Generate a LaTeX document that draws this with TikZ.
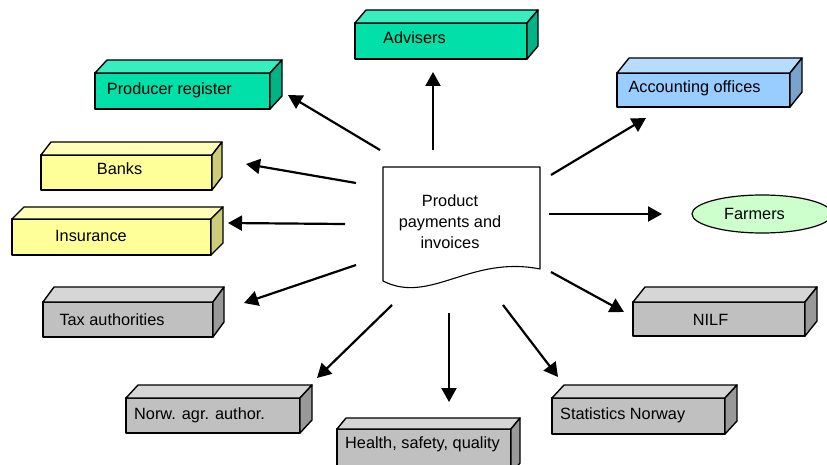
\documentclass[tikz,border=0pt]{standalone}
\usepackage{fontspec}
\setmainfont{Liberation Sans}
\usetikzlibrary{arrows.meta,shapes.geometric}
\definecolor{gfront}{HTML}{00E0A8}
\definecolor{gtop}{HTML}{38EDBE}
\definecolor{gside}{HTML}{00B386}
\definecolor{bfront}{HTML}{99CCFF}
\definecolor{btop}{HTML}{B8DCFF}
\definecolor{bside}{HTML}{7AA3CC}
\definecolor{yfront}{HTML}{FFFF99}
\definecolor{ytop}{HTML}{FFFFB8}
\definecolor{yside}{HTML}{CCCC7A}
\definecolor{kfront}{HTML}{C0C0C0}
\definecolor{ktop}{HTML}{D6D6D6}
\definecolor{kside}{HTML}{999999}
\definecolor{farm}{HTML}{CCFFCC}
\tikzset{
  face/.style={draw=black, line width=1.4pt, inner sep=0pt, outer sep=0pt, line join=round},
  edge/.style={draw=black, line width=1.4pt, line join=round},
  lbl/.style={font=\fontsize{16.3}{20}\selectfont, inner sep=0pt, anchor=base west},
  arr/.style={-{Triangle[length=14pt,width=15pt]}, line width=2.2pt},
}
% name, left, top, width, height, dx, dy, colour prefix
\newcommand\cuboid[8]{%
  \node[face, fill=#8front, minimum width=#4pt, minimum height=#5pt, anchor=north west] (#1) at (#2,#3) {};
  \draw[edge, fill=#8top] (#1.north west) -- ++(#6,-#7) -- ++(#4,0) -- (#1.north east) -- cycle;
  \draw[edge, fill=#8side] (#1.north east) -- ++(#6,-#7) -- ++(0,#5) -- (#1.south east) -- cycle;
}
\begin{document}
\begin{tikzpicture}[x=1pt,y=-1pt]
\path[use as bounding box, clip] (0,0) rectangle (827,465);
\fill[white] (0,0) rectangle (827,465);

% boxes
\cuboid{adv}{355}{23}{172}{36}{11}{13}{g}
\cuboid{prod}{95}{73}{175}{36}{12}{13}{g}
\cuboid{acc}{617}{73}{173}{34}{12}{15}{b}
\cuboid{bank}{41}{155}{171}{35}{10}{13}{y}
\cuboid{ins}{12}{219}{199}{36}{12}{12}{y}
\cuboid{tax}{43}{302}{170}{35}{11}{15}{k}
\cuboid{nilf}{633}{302}{172}{34}{12}{15}{k}
\cuboid{norw}{126}{398}{174}{35}{12}{13}{k}
\cuboid{hsq}{337}{429}{174}{45}{9}{11}{k}
\cuboid{stat}{552}{398}{173}{36}{12}{13}{k}

% labels
\node[lbl] (tadv) at (383,43.3) {Advisers};
\node[lbl] (tprod) at (106.7,94.3) {Producer register};
\node[lbl] (tacc) at (628.3,92.7) {Accounting offices};
\node[lbl] (tbank) at (96.7,175) {Banks};
\node[lbl] (tins) at (55,241) {Insurance};
\node[lbl] (ttax) at (59.3,325) {Tax authorities};
\node[lbl] (tnilf) at (692.7,325) {NILF};
\node[lbl] (tnorw) at (134,419.3) {Norw. agr. author.};
\node[lbl] (thsq) at (345,448) {Health, safety, quality};
\node[lbl] (tstat) at (560,419.3) {Statistics Norway};

% farmers
\node[ellipse, draw=black, line width=1.2pt, fill=farm, minimum width=140pt, minimum height=38pt, inner sep=0pt] (farm) at (762,214) {};
\node[lbl] (tfarm) at (724,219.5) {Farmers};

% document
\draw[line width=1.1pt, fill=white, line join=round] (383,167) -- (540,167) -- (540,269)
  .. controls (470,255) and (430,305) .. (383,281) -- cycle;
\node[font=\fontsize{16.3}{21}\selectfont, align=center, inner sep=0pt] (doc) at (450,222) {Product\\payments and\\invoices};

% arrow end points
\coordinate (s1) at (433,150); \coordinate (e1) at (433,72);
\coordinate (s2) at (380,150); \coordinate (e2) at (288,95);
\coordinate (s3) at (551,175); \coordinate (e3) at (646,118);
\coordinate (s4) at (356,183); \coordinate (e4) at (246,164);
\coordinate (s5) at (345,224); \coordinate (e5) at (228,223);
\coordinate (s6) at (549,214); \coordinate (e6) at (662,214);
\coordinate (s7) at (356,265); \coordinate (e7) at (244,303);
\coordinate (s8) at (551,272); \coordinate (e8) at (624,312);
\coordinate (s9) at (392,305); \coordinate (e9) at (317,378);
\coordinate (s10) at (449,313); \coordinate (e10) at (449,402);
\coordinate (s11) at (503,305); \coordinate (e11) at (558,377);
\foreach \i in {1,...,11} {\draw[arr] (s\i) -- (e\i);}
\end{tikzpicture}
\end{document}
